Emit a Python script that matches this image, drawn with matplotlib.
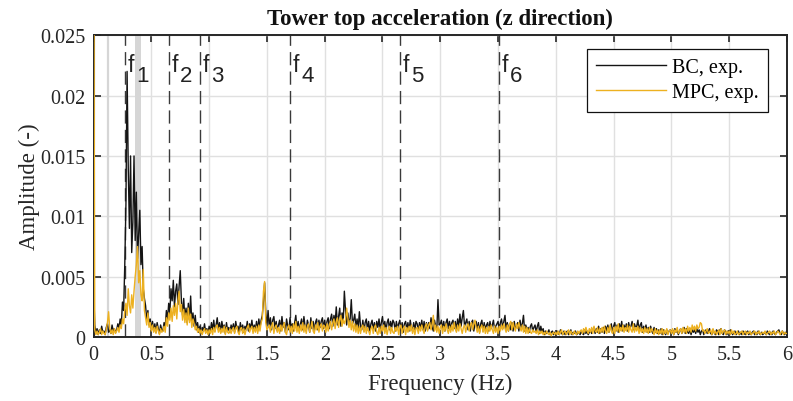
import matplotlib
matplotlib.use("Agg")
import matplotlib.pyplot as plt
import numpy as np

# frequency resolution of the spectra (Hz)
df = 0.01

# amplitude spectra, in units of 1e-4, one value every 0.01 Hz from 0 to 6 Hz
bc_amp = [
    45, 10, 3, 7, 2, 6, 3, 9, 4, 5, 2, 8, 11, 4, 6, 3, 10, 5, 7, 4,
    6, 11, 7, 15, 10, 29, 22, 60, 110, 220, 140, 90, 150, 70, 95, 150, 80, 120, 65, 85,
    105, 60, 75, 40, 32, 26, 14, 22, 10, 15, 6, 13, 5, 11, 4, 12, 7, 3, 10, 6,
    5, 12, 8, 22, 14, 28, 21, 40, 30, 47, 25, 38, 44, 27, 42, 55, 30, 18, 32, 15,
    24, 12, 28, 14, 34, 11, 20, 9, 18, 6, 12, 4, 9, 3, 8, 5, 11, 4, 7, 3,
    9, 4, 12, 6, 14, 5, 10, 16, 6, 12, 4, 13, 7, 10, 3, 12, 5, 8, 4, 10,
    6, 11, 4, 13, 7, 9, 3, 12, 6, 10, 4, 9, 6, 13, 5, 11, 7, 14, 5, 10,
    6, 13, 5, 15, 8, 14, 18, 30, 45, 20, 9, 22, 8, 16, 6, 14, 17, 7, 13, 5,
    10, 14, 5, 17, 8, 12, 4, 15, 9, 6, 16, 7, 11, 5, 12, 18, 6, 13, 5, 11,
    15, 6, 17, 9, 5, 14, 10, 4, 16, 7, 13, 5, 12, 15, 6, 14, 8, 13, 16, 7,
    14, 6, 13, 16, 7, 15, 19, 9, 18, 11, 25, 10, 17, 24, 9, 20, 12, 38, 22, 10,
    20, 12, 15, 31, 11, 14, 19, 8, 15, 7, 21, 9, 6, 14, 5, 12, 15, 6, 13, 5,
    11, 14, 6, 12, 5, 13, 8, 15, 6, 12, 17, 7, 13, 5, 12, 15, 6, 13, 8, 14,
    12, 5, 13, 7, 11, 14, 6, 12, 4, 11, 13, 6, 12, 5, 14, 8, 5, 12, 6, 13,
    11, 5, 12, 7, 14, 6, 13, 5, 12, 6, 12, 7, 16, 8, 5, 14, 9, 6, 31, 10,
    11, 14, 6, 13, 5, 12, 15, 7, 13, 6, 12, 14, 7, 13, 5, 15, 8, 19, 9, 16,
    22, 9, 12, 15, 6, 13, 5, 12, 14, 5, 11, 13, 6, 12, 4, 11, 14, 5, 12, 6,
    10, 12, 5, 13, 7, 10, 14, 6, 9, 11, 13, 5, 12, 15, 7, 13, 18, 6, 12, 5,
    11, 6, 12, 5, 13, 7, 9, 12, 5, 14, 8, 11, 18, 5, 10, 6, 8, 4, 9, 11,
    5, 8, 10, 4, 9, 12, 3, 9, 4, 7, 2, 5, 3, 4, 6, 2, 4, 5, 2, 4,
    2, 5, 3, 2, 6, 3, 2, 5, 2, 4, 5, 2, 4, 6, 2, 4, 3, 5, 2, 3,
    4, 2, 5, 3, 2, 6, 3, 5, 2, 4, 5, 3, 6, 8, 3, 7, 4, 9, 3, 7,
    4, 8, 3, 9, 5, 10, 4, 8, 11, 4, 9, 12, 5, 10, 4, 11, 6, 13, 5, 10,
    6, 11, 5, 12, 7, 9, 13, 6, 11, 8, 9, 14, 5, 10, 12, 4, 9, 5, 10, 4,
    8, 4, 9, 5, 3, 8, 4, 7, 3, 6, 3, 7, 2, 6, 4, 2, 6, 3, 5, 6,
    3, 6, 2, 7, 4, 6, 2, 5, 7, 3, 6, 8, 3, 7, 4, 3, 7, 2, 6, 4,
    6, 3, 7, 4, 6, 2, 5, 6, 2, 5, 6, 3, 5, 7, 3, 2, 6, 4, 2, 6,
    5, 2, 6, 7, 3, 2, 6, 4, 2, 5, 3, 6, 4, 2, 4, 5, 2, 4, 5, 2,
    4, 2, 5, 3, 2, 4, 5, 2, 4, 2, 4, 5, 2, 4, 2, 5, 3, 2, 4, 2,
    3, 4, 2, 5, 3, 2, 4, 2, 5, 3, 2, 4, 5, 6, 3, 2, 5, 3, 2, 4,
    3,
]

mpc_amp = [
    400, 6, 2, 5, 2, 4, 7, 2, 5, 3, 2, 6, 12, 21, 7, 3, 6, 2, 7, 3,
    5, 8, 4, 10, 7, 15, 11, 22, 28, 18, 40, 26, 20, 35, 24, 38, 50, 60, 75, 45,
    55, 35, 30, 56, 22, 16, 10, 20, 8, 12, 5, 10, 4, 8, 3, 9, 5, 2, 7, 4,
    5, 9, 4, 16, 9, 20, 14, 24, 13, 26, 18, 28, 15, 30, 38, 21, 27, 14, 23, 12,
    20, 10, 24, 12, 19, 8, 15, 11, 6, 9, 4, 7, 3, 6, 2, 5, 7, 3, 6, 2,
    6, 3, 7, 2, 8, 4, 9, 10, 4, 8, 3, 7, 4, 9, 2, 8, 4, 3, 7, 3,
    6, 8, 3, 7, 9, 4, 2, 7, 8, 3, 7, 2, 6, 8, 10, 4, 7, 9, 3, 8,
    4, 9, 3, 10, 5, 12, 15, 38, 46, 12, 6, 8, 10, 4, 9, 12, 3, 8, 10, 4,
    8, 3, 10, 5, 9, 12, 4, 2, 8, 10, 4, 9, 3, 11, 5, 13, 4, 9, 3, 10,
    5, 12, 4, 10, 3, 9, 11, 4, 8, 13, 5, 3, 10, 6, 12, 4, 9, 11, 5, 10,
    9, 4, 11, 5, 10, 13, 6, 12, 15, 7, 13, 16, 8, 14, 18, 9, 15, 11, 14, 24,
    16, 8, 14, 6, 13, 5, 11, 4, 10, 3, 9, 3, 8, 10, 4, 9, 3, 8, 5, 2,
    7, 9, 3, 8, 10, 4, 2, 8, 3, 9, 5, 10, 3, 8, 2, 7, 9, 3, 8, 4,
    3, 8, 5, 9, 2, 8, 10, 3, 7, 9, 2, 8, 4, 9, 5, 10, 3, 8, 2, 7,
    8, 3, 9, 5, 10, 6, 3, 9, 11, 5, 10, 12, 6, 11, 18, 5, 10, 4, 9, 3,
    8, 10, 3, 9, 5, 11, 6, 3, 9, 4, 10, 5, 12, 7, 4, 10, 5, 11, 7, 3,
    8, 10, 4, 9, 11, 5, 10, 12, 6, 11, 14, 8, 4, 9, 3, 8, 10, 4, 9, 3,
    8, 3, 9, 5, 10, 6, 3, 9, 4, 8, 3, 9, 5, 10, 6, 11, 7, 4, 10, 5,
    11, 13, 6, 12, 8, 5, 11, 7, 12, 8, 5, 10, 4, 9, 3, 8, 3, 7, 4, 3,
    6, 4, 5, 3, 6, 2, 5, 3, 5, 2, 4, 2, 5, 3, 2, 4, 1, 3, 4, 2,
    4, 2, 5, 2, 4, 6, 2, 4, 5, 2, 4, 6, 2, 5, 3, 2, 5, 3, 2, 5,
    3, 5, 6, 3, 7, 4, 8, 5, 3, 7, 4, 8, 3, 9, 5, 4, 8, 3, 7, 4,
    8, 4, 9, 5, 3, 8, 4, 10, 5, 3, 8, 3, 9, 5, 11, 4, 8, 5, 10, 4,
    8, 5, 10, 4, 9, 6, 4, 11, 4, 8, 5, 9, 3, 8, 4, 7, 3, 8, 4, 7,
    3, 8, 4, 7, 5, 2, 7, 3, 6, 2, 6, 3, 7, 2, 6, 3, 7, 2, 5, 6,
    3, 7, 2, 6, 4, 8, 3, 5, 7, 3, 8, 4, 7, 3, 9, 5, 8, 4, 10, 6,
    9, 5, 10, 7, 8, 12, 11, 5, 6, 3, 5, 7, 3, 4, 6, 2, 7, 3, 5, 2,
    4, 6, 2, 7, 3, 5, 6, 2, 5, 3, 5, 2, 6, 3, 5, 2, 3, 5, 2, 3,
    4, 5, 2, 4, 5, 2, 4, 3, 5, 2, 3, 4, 5, 2, 4, 3, 5, 2, 3, 4,
    3, 5, 2, 3, 4, 5, 2, 4, 3, 5, 2, 3, 5, 4, 2, 4, 5, 2, 4, 3,
    3,
]

# natural frequencies marked with dashed lines
mode_freqs = [0.272, 0.653, 0.921, 1.70, 2.65, 3.51]
mode_names = ['1', '2', '3', '4', '5', '6']

# gray markers (excitation frequencies)
gray_line = 0.125
gray_band = (0.355, 0.41)

xticks = [0, 0.5, 1, 1.5, 2, 2.5, 3, 3.5, 4, 4.5, 5, 5.5, 6]
yticks = [0, 0.005, 0.01, 0.015, 0.02, 0.025]
ytick_labels = ['0', '0.005', '0.01', '0.015', '0.02', '0.025']

plt.rcParams['font.family'] = 'serif'
plt.rcParams['font.serif'] = ['Liberation Serif', 'DejaVu Serif']

fig = plt.figure(figsize=(7.93, 4.02), dpi=100)
ax = fig.add_axes([0.118, 0.159, 0.8744, 0.751])

bc = np.array(bc_amp) * 1e-4
mpc = np.array(mpc_amp) * 1e-4
f_bc = np.arange(len(bc)) * df
f_mpc = np.arange(len(mpc)) * df

ax.axvline(gray_line, color='#d6d6d6', lw=1.6, zorder=1)
ax.axvspan(gray_band[0], gray_band[1], color='#d6d6d6', lw=0, zorder=1)

for f, name in zip(mode_freqs, mode_names):
    ax.axvline(f, color='#3a3a3a', lw=1.0, ls=(0, (9.5, 4.5)), zorder=2)
    ax.annotate('f', xy=(f, 1), xycoords=('data', 'axes fraction'),
                xytext=(2, -26), textcoords='offset points', va='baseline',
                ha='left', fontsize=16.5, family='Liberation Sans', color='#222222')
    ax.annotate(name, xy=(f, 1), xycoords=('data', 'axes fraction'),
                xytext=(8, -33), textcoords='offset points', va='baseline',
                ha='left', fontsize=16, family='Liberation Sans', color='#222222')

ax.plot(f_bc, bc, color='#141414', lw=1.0, zorder=3, label='BC, exp.')
ax.plot(f_mpc, mpc, color='#EDB120', lw=1.0, zorder=4, label='MPC, exp.')

ax.set_xlim(0, 6)
ax.set_ylim(0, 0.025)
ax.set_xticks(xticks)
ax.set_xticklabels(['{:g}'.format(t) for t in xticks])
ax.set_yticks(yticks)
ax.set_yticklabels(ytick_labels)

ax.grid(True, color='#e0e0e0', lw=1.0)
ax.set_axisbelow(True)
ax.tick_params(direction='in', top=True, right=True, length=5, width=1.2,
               labelsize=14.5, colors='#262626', pad=6)
for sp in ax.spines.values():
    sp.set_color('#262626')
    sp.set_linewidth(1.4)

ax.set_title('Tower top acceleration (z direction)', fontweight='bold',
             fontsize=16.5, pad=8, color='#111111')
ax.set_xlabel('Frequency (Hz)', fontsize=16.5, color='#262626', labelpad=6)
ax.set_ylabel('Amplitude (-)', fontsize=16.5, color='#262626', labelpad=0)

leg = ax.legend(loc='upper right', bbox_to_anchor=(0.9726, 0.9536),
                borderaxespad=0, fontsize=14.5, handlelength=3.5,
                handletextpad=0.3, labelspacing=0.3, borderpad=0.45,
                fancybox=False, framealpha=1, edgecolor='#111111')
leg.get_frame().set_linewidth(0.9)

fig.savefig('out.png', dpi=100)
